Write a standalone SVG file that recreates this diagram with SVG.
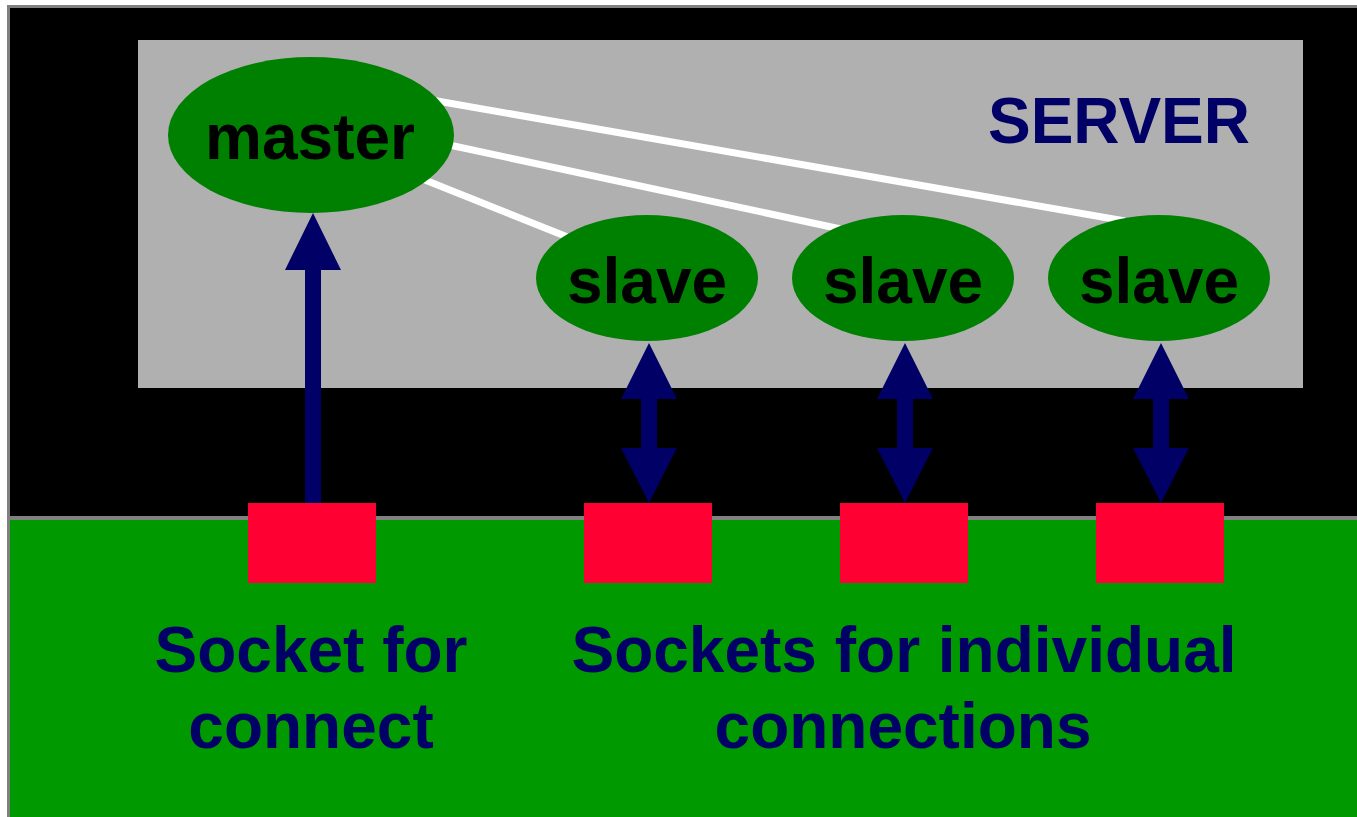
<svg xmlns="http://www.w3.org/2000/svg" width="1357" height="817" viewBox="0 0 1357 817">
  <style>
    .lbl { font-family: "Liberation Sans", Arial, sans-serif; font-weight: bold; font-size: 64px; text-anchor: middle; }
    .node-text { fill: #000000; }
    .caption { fill: #000066; }
    .proc { fill: #008000; }
    .sock { fill: #ff0033; }
    .link { stroke: #ffffff; stroke-width: 7; fill: none; }
    .arrow { fill: #000066; }
  </style>

  <!-- frame and background bands -->
  <g id="background">
    <rect x="0" y="0" width="1357" height="817" fill="#ffffff"/>
    <rect x="7" y="5" width="1350" height="812" fill="#808080"/>
    <rect x="10" y="8" width="1347" height="508" fill="#000000"/>
    <rect x="10" y="520" width="1347" height="297" fill="#009900"/>
  </g>

  <!-- server area -->
  <g id="server">
    <rect x="138" y="40" width="1165" height="348" fill="#b0b0b0"/>
    <text class="lbl caption" x="1119" y="143">SERVER</text>
  </g>

  <!-- master-to-slave links -->
  <g id="links">
    <line class="link" x1="400" y1="170" x2="580" y2="242"/>
    <line class="link" x1="440" y1="143" x2="850" y2="231"/>
    <line class="link" x1="420" y1="98" x2="1125" y2="221"/>
  </g>

  <g id="master">
    <ellipse class="proc" cx="311" cy="135" rx="143" ry="78"/>
    <text class="lbl node-text" x="310" y="159">master</text>
  </g>

  <g id="slave1">
    <ellipse class="proc" cx="647" cy="278" rx="111" ry="63"/>
    <text class="lbl node-text" x="647" y="303">slave</text>
  </g>
  <g id="slave2">
    <ellipse class="proc" cx="903" cy="278" rx="111" ry="63"/>
    <text class="lbl node-text" x="903" y="303">slave</text>
  </g>
  <g id="slave3">
    <ellipse class="proc" cx="1159" cy="278" rx="111" ry="63"/>
    <text class="lbl node-text" x="1159" y="303">slave</text>
  </g>

  <!-- socket to process arrows -->
  <g id="arrows">
    <polygon class="arrow" points="313,213 341,270 321,270 321,503 305,503 305,270 285,270"/>
    <polygon class="arrow" points="649,343 677,399 657,399 657,448 677,448 649,503 621,448 641,448 641,399 621,399"/>
    <polygon class="arrow" points="905,343 933,399 913,399 913,448 933,448 905,503 877,448 897,448 897,399 877,399"/>
    <polygon class="arrow" points="1161,343 1189,399 1169,399 1169,448 1189,448 1161,503 1133,448 1153,448 1153,399 1133,399"/>
  </g>

  <g id="socket-connect">
    <rect class="sock" x="248" y="503" width="128" height="80"/>
  </g>
  <g id="socket1">
    <rect class="sock" x="584" y="503" width="128" height="80"/>
  </g>
  <g id="socket2">
    <rect class="sock" x="840" y="503" width="128" height="80"/>
  </g>
  <g id="socket3">
    <rect class="sock" x="1096" y="503" width="128" height="80"/>
  </g>

  <g id="captions">
    <text class="lbl caption" x="311" y="672">Socket for</text>
    <text class="lbl caption" x="311" y="748">connect</text>
    <text class="lbl caption" x="904" y="672">Sockets for individual</text>
    <text class="lbl caption" x="903" y="748">connections</text>
  </g>
</svg>
